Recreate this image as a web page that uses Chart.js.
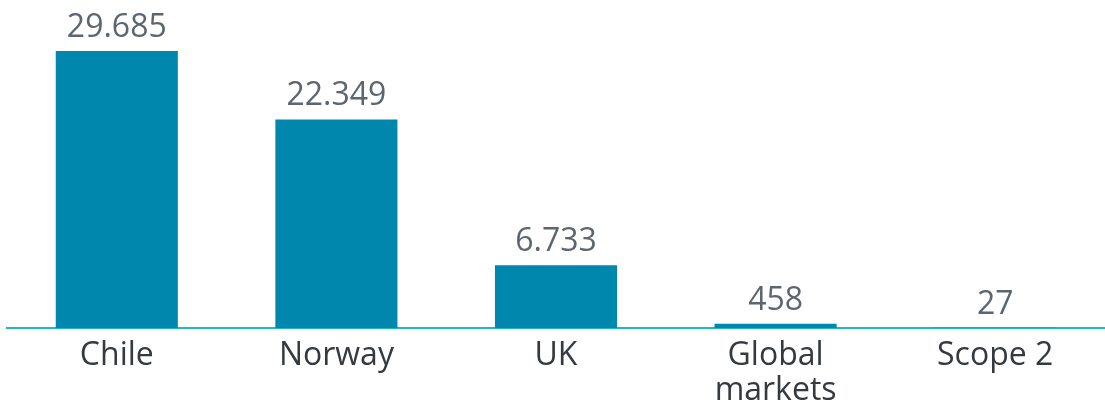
<!DOCTYPE html>
<html>
<head>
<meta charset="utf-8">
<script src="https://cdn.jsdelivr.net/npm/chart.js@4/dist/chart.umd.min.js"></script>
<style>
  html, body { margin: 0; padding: 0; background: #fff; }
  #wrap { width: 1105px; height: 402px; position: relative; }
</style>
</head>
<body>
<div id="wrap"><canvas id="c"></canvas></div>
<script>
  // Emissionen je Bereich (Beschriftung mit Tausenderpunkt wie im Original)
  var KATEGORIEN = [['Chile'], ['Norway'], ['UK'], ['Global', 'markets'], ['Scope 2']];
  var WERTE = [29685, 22349, 6733, 458, 27];
  var LABELS = ['29.685', '22.349', '6.733', '458', '27'];

  var BALKEN = '#0087ad';
  var ACHSE = '#1fb6c6';
  var SCHRIFT = '"Open Sans", "DejaVu Sans", sans-serif';

  // Werte über den Balken
  var wertLabels = {
    id: 'wertLabels',
    afterDatasetsDraw: function (chart) {
      var ctx = chart.ctx;
      var meta = chart.getDatasetMeta(0);
      ctx.save();
      ctx.font = '32px ' + SCHRIFT;
      ctx.fillStyle = '#5b6670';
      ctx.textAlign = 'center';
      ctx.textBaseline = 'alphabetic';
      meta.data.forEach(function (bar, i) {
        ctx.fillText(LABELS[i], bar.x, bar.y - 14);
      });
      ctx.restore();
    }
  };

  new Chart(document.getElementById('c').getContext('2d'), {
    type: 'bar',
    data: {
      labels: KATEGORIEN,
      datasets: [{ data: WERTE, backgroundColor: BALKEN, borderWidth: 0, barPercentage: 0.556, categoryPercentage: 1 }]
    },
    options: {
      responsive: true, maintainAspectRatio: false, animation: false,
      layout: { padding: { top: 51, left: 7, right: 0, bottom: 0 } },
      plugins: { legend: { display: false }, tooltip: { enabled: false } },
      scales: {
        x: {
          grid: { display: false, drawTicks: false },
          border: { display: true, color: ACHSE, width: 2 },
          ticks: { color: '#343a40', padding: 10, font: { family: SCHRIFT, size: 32, lineHeight: 1.1 }, maxRotation: 0, autoSkip: false },
          afterFit: function (s) { s.height = 74; }
        },
        y: { display: false, min: 0, max: Math.max.apply(null, WERTE) }
      }
    },
    plugins: [wertLabels]
  });
</script>
</body>
</html>
